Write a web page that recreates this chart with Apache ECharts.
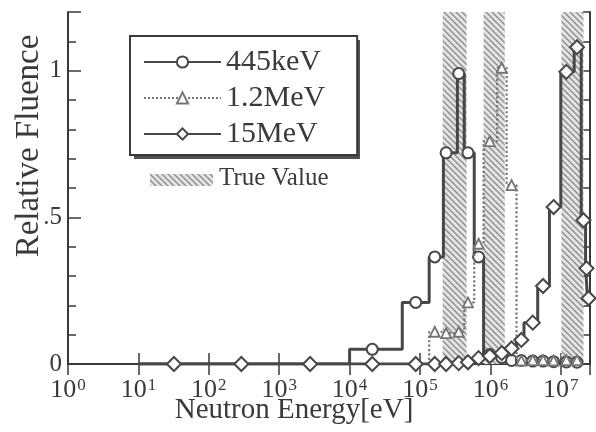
<!DOCTYPE html>
<html>
<head>
<meta charset="utf-8">
<script src="https://cdn.jsdelivr.net/npm/echarts@6/dist/echarts.min.js"></script>
<style>
html,body{margin:0;padding:0;background:#fff;}
#chart{width:596px;height:432px;}
</style>
</head>
<body>
<div id="chart"></div>
<script>
// ---- data (energies in eV) ----
const seriesNames = ['445keV', '1.2MeV', '15MeV'];
const binEdges = [1e1, 1e2, 1e3, 1e4, 5.6e4, 1.35e5, 2.15e5, 3.4e5, 4.25e5, 5.9e5, 8.0e5, 1.25e6, 1.7e6, 2.35e6, 3.0e6, 4.7e6, 6.9e6, 1.0e7, 1.55e7, 1.95e7, 2.25e7, 2.4e7, 2.55e7];
const markerEnergies = [32, 290, 2750, 2.1e4, 8.7e4, 1.62e5, 2.35e5, 3.55e5, 4.8e5, 6.8e5, 9.8e5, 1.45e6, 2.0e6, 2.75e6, 4.0e6, 5.6e6, 7.9e6, 1.2e7, 1.7e7, 2.1e7, 2.32e7, 2.48e7];
const fluence445keV = [0, 0, 0, 0.05, 0.21, 0.365, 0.72, 0.99, 0.72, 0.365, 0.032, 0.022, 0.012, 0.012, 0.01, 0.01, 0.008, 0.007, 0.006, null, null, null];
const fluence1p2MeV = [0, 0, 0, 0, 0, 0.11, 0.105, 0.11, 0.21, 0.41, 0.76, 1.01, 0.61, 0.012, 0.013, 0.013, 0.012, 0.013, 0.013, null, null, null];
const fluence15MeV = [0, 0, 0, 0, 0, 0, 0, 0.003, 0.006, 0.02, 0.027, 0.037, 0.053, 0.082, 0.141, 0.266, 0.535, 0.996, 1.08, 0.49, 0.326, 0.224];
const trueValueBands = [[2.1e5, 4.6e5], [8.0e5, 1.6e6], [1.02e7, 2.1e7]];
const xMin = 1, xMax = 2.6e7;
const yMin = 0, yMax = 1.2;
const yTickLabels = {0: '0', 0.5: '.5', 1: '1'};

// ---- style ----
const FONT = '"Liberation Serif", "Times New Roman", serif';
const INK = '#3a3a3a';

function makeHatch() {
  const c = document.createElement('canvas');
  c.width = 6; c.height = 6;
  const g = c.getContext('2d');
  g.fillStyle = '#e4e4e4';
  g.fillRect(0, 0, 6, 6);
  g.strokeStyle = '#8e8e8e';
  g.lineWidth = 1.4;
  g.beginPath();
  g.moveTo(-1, -1); g.lineTo(7, 7);
  g.moveTo(-1, 5); g.lineTo(1, 7);
  g.moveTo(5, -1); g.lineTo(7, 1);
  g.stroke();
  return {image: c, repeat: 'repeat'};
}
const hatch = makeHatch();

function buildSteps(values, showZeroMarkers) {
  const pts = [];
  let last = -1;
  for (let i = 0; i < values.length; i++) {
    const v = values[i];
    if (v === null || v === undefined) continue;
    pts.push({value: [binEdges[i], v], symbol: 'none'});
    const m = {value: [markerEnergies[i], v]};
    if (v === 0 && !showZeroMarkers) m.symbol = 'none';
    pts.push(m);
    last = i;
  }
  pts.push({value: [binEdges[last + 1], values[last]], symbol: 'none'});
  return pts;
}

function xLabel(v) {
  const l = Math.log10(v);
  const n = Math.round(l);
  if (Math.abs(l - n) > 1e-6) return '';
  return '{b|10}{s|' + n + '}';
}

const chart = echarts.init(document.getElementById('chart'), null, {renderer: 'canvas'});

const option = {
  animation: false,
  backgroundColor: '#fff',
  grid: {left: 68, right: 6, top: 12, bottom: 68, containLabel: false, outerBoundsMode: 'none'},
  legend: {
    data: seriesNames,
    orient: 'vertical',
    left: 130, top: 36, z: 6,
    itemWidth: 77, itemHeight: 14, itemGap: 6,
    padding: [11, 32, 6, 13],
    backgroundColor: '#fff',
    borderColor: INK, borderWidth: 2,
    textStyle: {fontFamily: FONT, fontSize: 30, lineHeight: 30, color: INK},
    selectedMode: false
  },
  graphic: [
    {type: 'rect', left: 134, top: 40, z: 5, shape: {width: 226, height: 119}, style: {fill: '#505050'}},
    {type: 'rect', left: 150, top: 174, shape: {width: 63, height: 12}, style: {fill: hatch}, z: 10},
    {type: 'text', left: 219, top: 166, style: {text: 'True Value', font: '25px ' + FONT, fill: INK}, z: 10}
  ],
  xAxis: [
    {
      type: 'log', logBase: 10, min: xMin, max: xMax, position: 'bottom',
      name: 'Neutron Energy[eV]', nameLocation: 'middle', nameGap: 32, nameMoveOverlap: false,
      nameTextStyle: {fontFamily: FONT, fontSize: 29, color: INK, padding: [0, 70, 0, 0]},
      axisLine: {lineStyle: {color: INK, width: 2}},
      axisTick: {inside: true, length: 11, lineStyle: {color: INK, width: 1.5}},
      minorTick: {show: false},
      splitLine: {show: false},
      axisLabel: {
        formatter: xLabel, showMaxLabel: false, margin: 13,
        rich: {
          b: {fontFamily: FONT, fontSize: 26, color: INK, lineHeight: 26, verticalAlign: 'bottom'},
          s: {fontFamily: FONT, fontSize: 17, color: INK, lineHeight: 26, verticalAlign: 'top', padding: [0, 0, 10, 1]}
        }
      }
    },
    {
      type: 'log', logBase: 10, min: xMin, max: xMax, position: 'top',
      axisLine: {lineStyle: {color: INK, width: 2}},
      axisTick: {inside: true, length: 11, lineStyle: {color: INK, width: 1.5}},
      axisLabel: {show: false},
      splitLine: {show: false}
    }
  ],
  yAxis: [
    {
      type: 'value', min: yMin, max: yMax, interval: 0.1, position: 'left',
      name: 'Relative Fluence', nameLocation: 'middle', nameGap: 22, nameMoveOverlap: false,
      nameTextStyle: {fontFamily: FONT, fontSize: 33, color: INK, padding: [0, 0, 0, 84]},
      axisLine: {show: true, lineStyle: {color: INK, width: 2}},
      axisTick: {show: true, inside: true, length: 8, lineStyle: {color: INK, width: 1.5}},
      splitLine: {show: false},
      axisLabel: {
        margin: 6, fontFamily: FONT, fontSize: 25, color: INK, padding: [6, 0, 0, 0],
        formatter: function (v) {
          for (const k in yTickLabels) { if (Math.abs(v - Number(k)) < 1e-6) return yTickLabels[k]; }
          return '';
        }
      }
    },
    {
      type: 'value', min: yMin, max: yMax, interval: 0.5, position: 'left', offset: 0,
      axisLine: {show: false},
      axisTick: {show: true, inside: true, length: 13, lineStyle: {color: INK, width: 1.5}},
      axisLabel: {show: false},
      splitLine: {show: false}
    },
    {
      type: 'value', min: yMin, max: yMax, interval: 0.1, position: 'right',
      axisLine: {show: true, lineStyle: {color: INK, width: 2}},
      axisTick: {show: true, inside: true, length: 7, lineStyle: {color: INK, width: 1.5}},
      axisLabel: {show: false},
      splitLine: {show: false}
    }
  ],
  series: [
    {
      name: 'True Value', type: 'custom', z: 1,
      data: trueValueBands.map(b => [b[0], b[1], 0]),
      encode: {x: [0, 1], y: 2},
      clip: true,
      renderItem: function (params, api) {
        const p0 = api.coord([api.value(0), yMax]);
        const p1 = api.coord([api.value(1), yMin]);
        return {type: 'rect', shape: {x: p0[0], y: p0[1], width: p1[0] - p0[0], height: p1[1] - p0[1]}, style: {fill: hatch}};
      }
    },
    {
      name: '445keV', type: 'line', step: 'end', z: 3,
      data: buildSteps(fluence445keV, false),
      symbol: 'circle', symbolSize: 11, showSymbol: true,
      lineStyle: {color: '#474747', width: 3},
      itemStyle: {color: '#fff', borderColor: '#474747', borderWidth: 2}
    },
    {
      name: '1.2MeV', type: 'line', step: 'end', z: 4,
      data: buildSteps(fluence1p2MeV, false),
      symbol: 'triangle', symbolSize: 10, showSymbol: true,
      lineStyle: {color: '#757575', width: 2.2, type: 'dotted'},
      itemStyle: {color: '#fff', borderColor: '#757575', borderWidth: 1.8}
    },
    {
      name: '15MeV', type: 'line', step: 'end', z: 5,
      data: buildSteps(fluence15MeV, true),
      symbol: 'diamond', symbolSize: 14, showSymbol: true,
      lineStyle: {color: '#474747', width: 3},
      itemStyle: {color: '#fff', borderColor: '#474747', borderWidth: 2}
    }
  ]
};
chart.setOption(option);
</script>
</body>
</html>
